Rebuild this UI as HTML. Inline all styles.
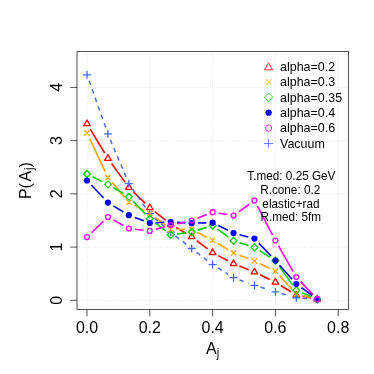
<!DOCTYPE html><html><head><meta charset="utf-8"><style>html,body{margin:0;padding:0;background:#fff;width:374px;height:374px;overflow:hidden}</style></head><body><svg width="374" height="374" viewBox="0 0 374 374" style="position:absolute;left:0;top:0;will-change:transform;filter:opacity(1)">
<rect width="374" height="374" fill="#fff"/>
<line x1="87.00" y1="51.4" x2="87.00" y2="309.5" stroke="#cccccc" stroke-width="0.7" stroke-dasharray="0.6 1.65"/>
<line x1="149.80" y1="51.4" x2="149.80" y2="309.5" stroke="#cccccc" stroke-width="0.7" stroke-dasharray="0.6 1.65"/>
<line x1="212.60" y1="51.4" x2="212.60" y2="309.5" stroke="#cccccc" stroke-width="0.7" stroke-dasharray="0.6 1.65"/>
<line x1="275.40" y1="51.4" x2="275.40" y2="309.5" stroke="#cccccc" stroke-width="0.7" stroke-dasharray="0.6 1.65"/>
<line x1="338.20" y1="51.4" x2="338.20" y2="309.5" stroke="#cccccc" stroke-width="0.7" stroke-dasharray="0.6 1.65"/>
<line x1="77.0" y1="300.30" x2="348.5" y2="300.30" stroke="#cccccc" stroke-width="0.7" stroke-dasharray="0.6 1.65"/>
<line x1="77.0" y1="247.08" x2="348.5" y2="247.08" stroke="#cccccc" stroke-width="0.7" stroke-dasharray="0.6 1.65"/>
<line x1="77.0" y1="193.86" x2="348.5" y2="193.86" stroke="#cccccc" stroke-width="0.7" stroke-dasharray="0.6 1.65"/>
<line x1="77.0" y1="140.64" x2="348.5" y2="140.64" stroke="#cccccc" stroke-width="0.7" stroke-dasharray="0.6 1.65"/>
<line x1="77.0" y1="87.42" x2="348.5" y2="87.42" stroke="#cccccc" stroke-width="0.7" stroke-dasharray="0.6 1.65"/>
<clipPath id="c"><rect x="77.0" y="51.4" width="271.5" height="258.1"/></clipPath><g clip-path="url(#c)">
<path d="M90.26,129.19L104.67,153.01M111.61,163.51L125.19,182.39M133.39,191.89L145.28,203.41M154.75,211.70L165.79,220.40M176.14,227.53L186.26,233.57M196.68,240.61L207.58,248.89M218.18,255.63L227.96,260.77M239.39,266.02L248.61,269.68M260.13,274.76L269.74,279.44M280.76,285.51L290.97,291.79M302.52,296.28L311.08,297.92" fill="none" stroke="#ff0000" stroke-width="1.6" stroke-linecap="butt"/>
<path d="M87.00,119.99L90.30,125.71L83.70,125.71Z" fill="none" stroke="#ff0000" stroke-width="1.3" stroke-linejoin="round"/>
<path d="M107.93,154.59L111.23,160.31L104.63,160.31Z" fill="none" stroke="#ff0000" stroke-width="1.3" stroke-linejoin="round"/>
<path d="M128.87,183.69L132.17,189.41L125.57,189.41Z" fill="none" stroke="#ff0000" stroke-width="1.3" stroke-linejoin="round"/>
<path d="M149.80,203.99L153.10,209.71L146.50,209.71Z" fill="none" stroke="#ff0000" stroke-width="1.3" stroke-linejoin="round"/>
<path d="M170.73,220.49L174.03,226.21L167.43,226.21Z" fill="none" stroke="#ff0000" stroke-width="1.3" stroke-linejoin="round"/>
<path d="M191.67,232.99L194.97,238.71L188.37,238.71Z" fill="none" stroke="#ff0000" stroke-width="1.3" stroke-linejoin="round"/>
<path d="M212.60,248.89L215.90,254.61L209.30,254.61Z" fill="none" stroke="#ff0000" stroke-width="1.3" stroke-linejoin="round"/>
<path d="M233.53,259.89L236.83,265.61L230.23,265.61Z" fill="none" stroke="#ff0000" stroke-width="1.3" stroke-linejoin="round"/>
<path d="M254.47,268.19L257.77,273.91L251.17,273.91Z" fill="none" stroke="#ff0000" stroke-width="1.3" stroke-linejoin="round"/>
<path d="M275.40,278.39L278.70,284.11L272.10,284.11Z" fill="none" stroke="#ff0000" stroke-width="1.3" stroke-linejoin="round"/>
<path d="M296.33,291.29L299.63,297.01L293.03,297.01Z" fill="none" stroke="#ff0000" stroke-width="1.3" stroke-linejoin="round"/>
<path d="M317.27,295.29L320.57,301.01L313.97,301.01Z" fill="none" stroke="#ff0000" stroke-width="1.3" stroke-linejoin="round"/>
<path d="M89.11,80.84L105.83,127.96M110.38,139.71L126.42,177.79M132.46,188.77L146.20,208.53M154.52,217.87L166.01,228.03M175.70,236.07L186.70,244.63M196.66,252.34L207.61,260.76M217.94,267.94L228.19,274.36M239.46,279.85L248.54,283.15M260.48,287.17L269.38,289.93M281.46,293.54L290.28,296.06M302.62,298.25L310.98,298.85" fill="none" stroke="#4169e1" stroke-width="1.4" stroke-linecap="butt" stroke-dasharray="4.5 4.5"/>
<path d="M83.54,74.90L90.46,74.90M87.00,71.44L87.00,78.36" fill="none" stroke="#4169e1" stroke-width="1.3" stroke-linecap="round"/>
<path d="M104.47,133.90L111.40,133.90M107.93,130.44L107.93,137.36" fill="none" stroke="#4169e1" stroke-width="1.3" stroke-linecap="round"/>
<path d="M125.40,183.60L132.33,183.60M128.87,180.14L128.87,187.06" fill="none" stroke="#4169e1" stroke-width="1.3" stroke-linecap="round"/>
<path d="M146.34,213.70L153.26,213.70M149.80,210.24L149.80,217.16" fill="none" stroke="#4169e1" stroke-width="1.3" stroke-linecap="round"/>
<path d="M167.27,232.20L174.20,232.20M170.73,228.74L170.73,235.66" fill="none" stroke="#4169e1" stroke-width="1.3" stroke-linecap="round"/>
<path d="M188.20,248.50L195.13,248.50M191.67,245.04L191.67,251.96" fill="none" stroke="#4169e1" stroke-width="1.3" stroke-linecap="round"/>
<path d="M209.14,264.60L216.06,264.60M212.60,261.14L212.60,268.06" fill="none" stroke="#4169e1" stroke-width="1.3" stroke-linecap="round"/>
<path d="M230.07,277.70L237.00,277.70M233.53,274.24L233.53,281.16" fill="none" stroke="#4169e1" stroke-width="1.3" stroke-linecap="round"/>
<path d="M251.00,285.30L257.93,285.30M254.47,281.84L254.47,288.76" fill="none" stroke="#4169e1" stroke-width="1.3" stroke-linecap="round"/>
<path d="M271.94,291.80L278.86,291.80M275.40,288.34L275.40,295.26" fill="none" stroke="#4169e1" stroke-width="1.3" stroke-linecap="round"/>
<path d="M292.87,297.80L299.80,297.80M296.33,294.34L296.33,301.26" fill="none" stroke="#4169e1" stroke-width="1.3" stroke-linecap="round"/>
<path d="M313.80,299.30L320.73,299.30M317.27,295.84L317.27,302.76" fill="none" stroke="#4169e1" stroke-width="1.3" stroke-linecap="round"/>
<path d="M89.69,138.70L105.25,171.70M112.00,182.21L124.80,197.39M134.43,205.15L144.23,210.35M154.82,217.11L165.72,225.39M177.03,229.23L185.37,229.27M197.24,232.23L207.02,237.37M218.00,243.55L228.14,249.65M239.41,255.17L248.59,258.73M260.15,263.72L269.72,268.28M279.64,275.66L292.09,289.34M302.44,295.55L311.16,297.75" fill="none" stroke="#ffa500" stroke-width="1.6" stroke-linecap="butt"/>
<path d="M84.80,130.79L89.20,135.21M84.80,135.21L89.20,130.79" fill="none" stroke="#ffa500" stroke-width="1.3" stroke-linecap="round"/>
<path d="M105.73,175.19L110.14,179.61M105.73,179.61L110.14,175.19" fill="none" stroke="#ffa500" stroke-width="1.3" stroke-linecap="round"/>
<path d="M126.66,199.99L131.07,204.41M126.66,204.41L131.07,199.99" fill="none" stroke="#ffa500" stroke-width="1.3" stroke-linecap="round"/>
<path d="M147.59,211.09L152.01,215.51M147.59,215.51L152.01,211.09" fill="none" stroke="#ffa500" stroke-width="1.3" stroke-linecap="round"/>
<path d="M168.53,226.99L172.94,231.41M168.53,231.41L172.94,226.99" fill="none" stroke="#ffa500" stroke-width="1.3" stroke-linecap="round"/>
<path d="M189.46,227.09L193.87,231.51M189.46,231.51L193.87,227.09" fill="none" stroke="#ffa500" stroke-width="1.3" stroke-linecap="round"/>
<path d="M210.39,238.09L214.81,242.51M210.39,242.51L214.81,238.09" fill="none" stroke="#ffa500" stroke-width="1.3" stroke-linecap="round"/>
<path d="M231.33,250.69L235.74,255.11M231.33,255.11L235.74,250.69" fill="none" stroke="#ffa500" stroke-width="1.3" stroke-linecap="round"/>
<path d="M252.26,258.80L256.67,263.20M252.26,263.20L256.67,258.80" fill="none" stroke="#ffa500" stroke-width="1.3" stroke-linecap="round"/>
<path d="M273.19,268.80L277.60,273.20M273.19,273.20L277.60,268.80" fill="none" stroke="#ffa500" stroke-width="1.3" stroke-linecap="round"/>
<path d="M294.13,291.80L298.54,296.20M294.13,296.20L298.54,291.80" fill="none" stroke="#ffa500" stroke-width="1.3" stroke-linecap="round"/>
<path d="M315.06,297.10L319.47,301.50M315.06,301.50L319.47,297.10" fill="none" stroke="#ffa500" stroke-width="1.3" stroke-linecap="round"/>
<path d="M92.64,176.80L102.29,181.60M113.37,187.59L123.43,193.51M133.20,201.27L145.47,214.23M154.81,222.63L165.73,230.97M176.98,233.96L185.42,232.84M197.68,230.13L206.58,227.37M217.67,229.23L228.46,237.17M239.55,242.77L248.45,245.53M259.78,250.78L270.08,257.32M279.04,265.84L292.70,285.16M302.12,292.79L311.48,296.81" fill="none" stroke="#00cd00" stroke-width="1.6" stroke-linecap="butt"/>
<path d="M83.54,174.00L87.00,170.54L90.46,174.00L87.00,177.46Z" fill="none" stroke="#00cd00" stroke-width="1.3" stroke-linejoin="round"/>
<path d="M104.47,184.40L107.93,180.94L111.40,184.40L107.93,187.86Z" fill="none" stroke="#00cd00" stroke-width="1.3" stroke-linejoin="round"/>
<path d="M125.40,196.70L128.87,193.24L132.33,196.70L128.87,200.16Z" fill="none" stroke="#00cd00" stroke-width="1.3" stroke-linejoin="round"/>
<path d="M146.34,218.80L149.80,215.34L153.26,218.80L149.80,222.26Z" fill="none" stroke="#00cd00" stroke-width="1.3" stroke-linejoin="round"/>
<path d="M167.27,234.80L170.73,231.34L174.20,234.80L170.73,238.26Z" fill="none" stroke="#00cd00" stroke-width="1.3" stroke-linejoin="round"/>
<path d="M188.20,232.00L191.67,228.54L195.13,232.00L191.67,235.46Z" fill="none" stroke="#00cd00" stroke-width="1.3" stroke-linejoin="round"/>
<path d="M209.14,225.50L212.60,222.04L216.06,225.50L212.60,228.96Z" fill="none" stroke="#00cd00" stroke-width="1.3" stroke-linejoin="round"/>
<path d="M230.07,240.90L233.53,237.44L237.00,240.90L233.53,244.36Z" fill="none" stroke="#00cd00" stroke-width="1.3" stroke-linejoin="round"/>
<path d="M251.00,247.40L254.47,243.94L257.93,247.40L254.47,250.86Z" fill="none" stroke="#00cd00" stroke-width="1.3" stroke-linejoin="round"/>
<path d="M271.94,260.70L275.40,257.24L278.86,260.70L275.40,264.16Z" fill="none" stroke="#00cd00" stroke-width="1.3" stroke-linejoin="round"/>
<path d="M292.87,290.30L296.33,286.84L299.80,290.30L296.33,293.76Z" fill="none" stroke="#00cd00" stroke-width="1.3" stroke-linejoin="round"/>
<path d="M313.80,299.30L317.27,295.84L320.73,299.30L317.27,302.76Z" fill="none" stroke="#00cd00" stroke-width="1.3" stroke-linejoin="round"/>
<path d="M91.33,185.07L103.60,198.03M113.33,205.85L123.47,211.95M134.77,217.40L143.90,220.80M156.09,222.70L164.44,222.30M177.02,222.36L185.38,222.84M197.96,223.05L206.30,222.85M218.24,225.50L227.89,230.30M239.63,234.70L248.37,237.00M258.81,243.16L271.06,256.04M279.60,265.30L292.13,279.30M301.43,287.70L312.17,295.50" fill="none" stroke="#0000ff" stroke-width="1.6" stroke-linecap="butt"/>
<circle cx="87.00" cy="180.50" r="3.10" fill="#0000ff"/>
<circle cx="107.93" cy="202.60" r="3.10" fill="#0000ff"/>
<circle cx="128.87" cy="215.20" r="3.10" fill="#0000ff"/>
<circle cx="149.80" cy="223.00" r="3.10" fill="#0000ff"/>
<circle cx="170.73" cy="222.00" r="3.10" fill="#0000ff"/>
<circle cx="191.67" cy="223.20" r="3.10" fill="#0000ff"/>
<circle cx="212.60" cy="222.70" r="3.10" fill="#0000ff"/>
<circle cx="233.53" cy="233.10" r="3.10" fill="#0000ff"/>
<circle cx="254.47" cy="238.60" r="3.10" fill="#0000ff"/>
<circle cx="275.40" cy="260.60" r="3.10" fill="#0000ff"/>
<circle cx="296.33" cy="284.00" r="3.10" fill="#0000ff"/>
<circle cx="317.27" cy="299.20" r="3.10" fill="#0000ff"/>
<path d="M91.54,232.74L103.39,221.36M113.45,220.03L123.35,225.47M135.13,229.22L143.54,230.18M155.87,229.22L164.66,226.78M176.89,223.78L185.51,221.92M197.51,218.25L206.75,214.55M218.82,213.18L227.31,214.52M238.67,211.85L249.33,204.25M257.39,206.18L272.47,234.92M278.53,245.97L293.20,271.53M300.66,281.58L312.94,294.62" fill="none" stroke="#ff00ff" stroke-width="1.6" stroke-linecap="butt"/>
 <circle cx="87.00" cy="237.10" r="2.45" fill="none" stroke="#ff00ff" stroke-width="1.3"/>
 <circle cx="107.93" cy="217.00" r="2.45" fill="none" stroke="#ff00ff" stroke-width="1.3"/>
 <circle cx="128.87" cy="228.50" r="2.45" fill="none" stroke="#ff00ff" stroke-width="1.3"/>
 <circle cx="149.80" cy="230.90" r="2.45" fill="none" stroke="#ff00ff" stroke-width="1.3"/>
 <circle cx="170.73" cy="225.10" r="2.45" fill="none" stroke="#ff00ff" stroke-width="1.3"/>
 <circle cx="191.67" cy="220.60" r="2.45" fill="none" stroke="#ff00ff" stroke-width="1.3"/>
 <circle cx="212.60" cy="212.20" r="2.45" fill="none" stroke="#ff00ff" stroke-width="1.3"/>
 <circle cx="233.53" cy="215.50" r="2.45" fill="none" stroke="#ff00ff" stroke-width="1.3"/>
 <circle cx="254.47" cy="200.60" r="2.45" fill="none" stroke="#ff00ff" stroke-width="1.3"/>
 <circle cx="275.40" cy="240.50" r="2.45" fill="none" stroke="#ff00ff" stroke-width="1.3"/>
 <circle cx="296.33" cy="277.00" r="2.45" fill="none" stroke="#ff00ff" stroke-width="1.3"/>
 <circle cx="317.27" cy="299.20" r="2.45" fill="none" stroke="#ff00ff" stroke-width="1.3"/>
</g>
<rect x="77.0" y="51.4" width="271.5" height="258.1" fill="none" stroke="#1a1a1a" stroke-width="0.75"/>
<line x1="87.00" y1="309.5" x2="87.00" y2="316.3" stroke="#1a1a1a" stroke-width="0.75"/>
<line x1="149.80" y1="309.5" x2="149.80" y2="316.3" stroke="#1a1a1a" stroke-width="0.75"/>
<line x1="212.60" y1="309.5" x2="212.60" y2="316.3" stroke="#1a1a1a" stroke-width="0.75"/>
<line x1="275.40" y1="309.5" x2="275.40" y2="316.3" stroke="#1a1a1a" stroke-width="0.75"/>
<line x1="338.20" y1="309.5" x2="338.20" y2="316.3" stroke="#1a1a1a" stroke-width="0.75"/>
<line x1="77.0" y1="300.30" x2="70.2" y2="300.30" stroke="#1a1a1a" stroke-width="0.75"/>
<line x1="77.0" y1="247.08" x2="70.2" y2="247.08" stroke="#1a1a1a" stroke-width="0.75"/>
<line x1="77.0" y1="193.86" x2="70.2" y2="193.86" stroke="#1a1a1a" stroke-width="0.75"/>
<line x1="77.0" y1="140.64" x2="70.2" y2="140.64" stroke="#1a1a1a" stroke-width="0.75"/>
<line x1="77.0" y1="87.42" x2="70.2" y2="87.42" stroke="#1a1a1a" stroke-width="0.75"/>
<text transform="translate(87.00,332.9) scale(1,1.07)" font-family="Liberation Sans, sans-serif" font-size="16" text-anchor="middle" fill="#000">0.0</text>
<text transform="translate(149.80,332.9) scale(1,1.07)" font-family="Liberation Sans, sans-serif" font-size="16" text-anchor="middle" fill="#000">0.2</text>
<text transform="translate(212.60,332.9) scale(1,1.07)" font-family="Liberation Sans, sans-serif" font-size="16" text-anchor="middle" fill="#000">0.4</text>
<text transform="translate(275.40,332.9) scale(1,1.07)" font-family="Liberation Sans, sans-serif" font-size="16" text-anchor="middle" fill="#000">0.6</text>
<text transform="translate(338.20,332.9) scale(1,1.07)" font-family="Liberation Sans, sans-serif" font-size="16" text-anchor="middle" fill="#000">0.8</text>
<text transform="translate(61.8,300.30) rotate(-90) scale(1,1.07)" font-family="Liberation Sans, sans-serif" font-size="16" text-anchor="middle" fill="#000">0</text>
<text transform="translate(61.8,247.08) rotate(-90) scale(1,1.07)" font-family="Liberation Sans, sans-serif" font-size="16" text-anchor="middle" fill="#000">1</text>
<text transform="translate(61.8,193.86) rotate(-90) scale(1,1.07)" font-family="Liberation Sans, sans-serif" font-size="16" text-anchor="middle" fill="#000">2</text>
<text transform="translate(61.8,140.64) rotate(-90) scale(1,1.07)" font-family="Liberation Sans, sans-serif" font-size="16" text-anchor="middle" fill="#000">3</text>
<text transform="translate(61.8,87.42) rotate(-90) scale(1,1.07)" font-family="Liberation Sans, sans-serif" font-size="16" text-anchor="middle" fill="#000">4</text>
<text transform="translate(206.0,353.5) scale(1,1.08)" font-family="Liberation Sans, sans-serif" font-size="16" fill="#000">A</text>
<text transform="translate(216.8,356.6) scale(1,1.08)" font-family="Liberation Sans, sans-serif" font-size="11.2" fill="#000">j</text>
<text transform="translate(30.6,199.1) rotate(-90) scale(1,1.08)" font-family="Liberation Sans, sans-serif" font-size="16" fill="#000">P(</text>
<text transform="translate(30.6,181.5) rotate(-90) scale(1,1.08)" font-family="Liberation Sans, sans-serif" font-size="16" fill="#000">A</text>
<text transform="translate(33.3,169.9) rotate(-90) scale(1,1.08)" font-family="Liberation Sans, sans-serif" font-size="11.2" fill="#000">j</text>
<text transform="translate(30.6,167.4) rotate(-90) scale(1,1.08)" font-family="Liberation Sans, sans-serif" font-size="16" fill="#000">)</text>
<path d="M268.60,62.83L272.64,69.83L264.56,69.83Z" fill="none" stroke="#ff0000" stroke-width="0.8" stroke-linejoin="round"/>
<text transform="translate(280,70.70) scale(1,1.07)" font-family="Liberation Sans, sans-serif" font-size="12.5" fill="#000">alpha=0.2</text>
<path d="M265.90,79.20L271.30,84.60M265.90,84.60L271.30,79.20" fill="none" stroke="#ffa500" stroke-width="0.8" stroke-linecap="round"/>
<text transform="translate(280,86.10) scale(1,1.07)" font-family="Liberation Sans, sans-serif" font-size="12.5" fill="#000">alpha=0.3</text>
<path d="M264.36,97.30L268.60,93.06L272.84,97.30L268.60,101.54Z" fill="none" stroke="#00cd00" stroke-width="0.8" stroke-linejoin="round"/>
<text transform="translate(280,101.50) scale(1,1.07)" font-family="Liberation Sans, sans-serif" font-size="12.5" fill="#000">alpha=0.35</text>
<circle cx="268.60" cy="112.70" r="3.10" fill="#0000ff"/>
<text transform="translate(280,116.90) scale(1,1.07)" font-family="Liberation Sans, sans-serif" font-size="12.5" fill="#000">alpha=0.4</text>
 <circle cx="268.60" cy="128.10" r="3.15" fill="none" stroke="#ff00ff" stroke-width="0.8"/>
<text transform="translate(280,132.30) scale(1,1.07)" font-family="Liberation Sans, sans-serif" font-size="12.5" fill="#000">alpha=0.6</text>
<path d="M264.36,143.50L272.84,143.50M268.60,139.26L268.60,147.74" fill="none" stroke="#4169e1" stroke-width="0.8" stroke-linecap="round"/>
<text transform="translate(280,147.70) scale(1,1.07)" font-family="Liberation Sans, sans-serif" font-size="12.5" fill="#000">Vacuum</text>
<text transform="translate(291.4,179.6) scale(1,1.07)" font-family="Liberation Sans, sans-serif" font-size="11.75" text-anchor="middle" fill="#000">T.med: 0.25 GeV</text>
<text transform="translate(290.2,193.6) scale(1,1.07)" font-family="Liberation Sans, sans-serif" font-size="11.75" text-anchor="middle" fill="#000">R.cone: 0.2</text>
<text transform="translate(290.9,207.5) scale(1,1.07)" font-family="Liberation Sans, sans-serif" font-size="11.75" text-anchor="middle" fill="#000">elastic+rad</text>
<text transform="translate(290.8,221.1) scale(1,1.07)" font-family="Liberation Sans, sans-serif" font-size="11.75" text-anchor="middle" fill="#000">R.med: 5fm</text>
</svg></body></html>
